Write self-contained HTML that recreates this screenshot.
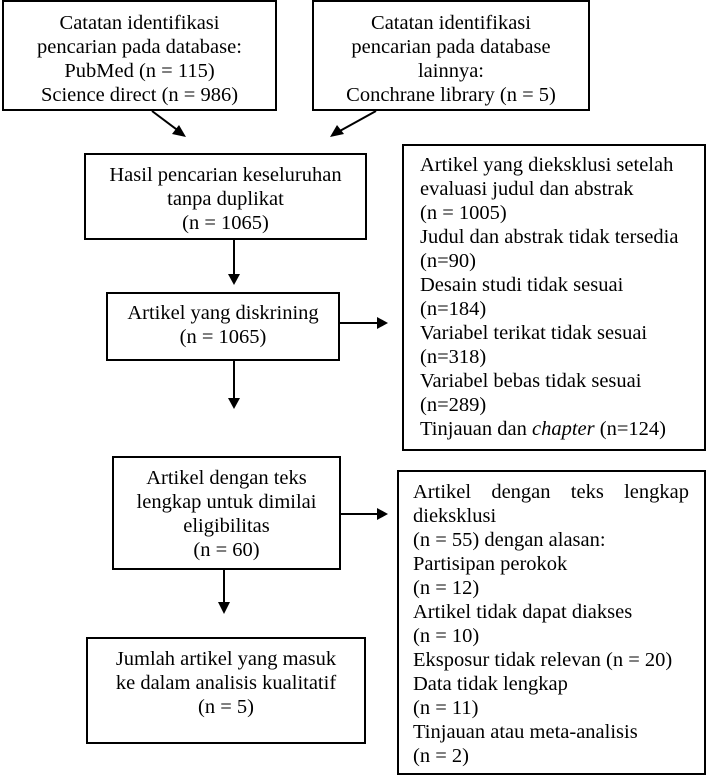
<!DOCTYPE html>
<html><head><meta charset="utf-8"><style>
body{margin:0;width:706px;height:775px;background:#fff;position:relative;overflow:hidden;font-family:"Liberation Serif",serif;font-size:20.5px;color:#000}
.b{position:absolute;border:2px solid #000;box-sizing:border-box}
.t{position:absolute;line-height:24px;white-space:nowrap}
.c{text-align:center}
</style></head><body>
<div class="b" style="left:2px;top:0;width:275px;height:111px"></div>
<div class="t c" style="left:2px;width:275px;top:11px">Catatan identifikasi<br>pencarian pada database:<br>PubMed (n = 115)<br>Science direct (n = 986)</div>
<div class="b" style="left:312px;top:0;width:278px;height:111px"></div>
<div class="t c" style="left:312px;width:278px;top:11px">Catatan identifikasi<br>pencarian pada database<br>lainnya:<br>Conchrane library (n = 5)</div>

<div class="b" style="left:84px;top:153px;width:283px;height:87px"></div>
<div class="t c" style="left:84px;width:283px;top:163px">Hasil pencarian keseluruhan<br>tanpa duplikat<br>(n = 1065)</div>

<div class="b" style="left:106px;top:292px;width:234px;height:69px"></div>
<div class="t c" style="left:106px;width:234px;top:301px">Artikel yang diskrining<br>(n = 1065)</div>

<div class="b" style="left:112px;top:456px;width:229px;height:114px"></div>
<div class="t c" style="left:112px;width:229px;top:466px">Artikel dengan teks<br>lengkap untuk dimilai<br>eligibilitas<br>(n = 60)</div>

<div class="b" style="left:86px;top:637px;width:280px;height:107px"></div>
<div class="t c" style="left:86px;width:280px;top:647px">Jumlah artikel yang masuk<br>ke dalam analisis kualitatif<br>(n = 5)</div>

<div class="b" style="left:402px;top:144px;width:304px;height:307px"></div>
<div class="t" style="left:420px;top:153px">Artikel yang dieksklusi setelah<br>evaluasi judul dan abstrak<br>(n = 1005)<br>Judul dan abstrak tidak tersedia<br>(n=90)<br>Desain studi tidak sesuai<br>(n=184)<br>Variabel terikat tidak sesuai<br>(n=318)<br>Variabel bebas tidak sesuai<br>(n=289)<br>Tinjauan dan <i>chapter</i> (n=124)</div>

<div class="b" style="left:397px;top:470px;width:309px;height:305px"></div>
<div class="t" style="left:413px;top:480px;width:276px;white-space:normal">
<div style="display:flex;justify-content:space-between"><span>Artikel</span><span>dengan</span><span>teks</span><span>lengkap</span></div>
dieksklusi<br>(n = 55) dengan alasan:<br>Partisipan perokok<br>(n = 12)<br>Artikel tidak dapat diakses<br>(n = 10)<br>Eksposur tidak relevan (n = 20)<br>Data tidak lengkap<br>(n = 11)<br>Tinjauan atau meta-analisis<br>(n = 2)</div>

<svg width="706" height="775" style="position:absolute;left:0;top:0" fill="#000" stroke="#000" stroke-width="2">
<line x1="152" y1="111" x2="180" y2="132"/><polygon points="186,137 172,134 179,125" stroke="none"/>
<line x1="376" y1="111" x2="338" y2="132"/><polygon points="330,137 337,125 344,134" stroke="none"/>
<line x1="234" y1="240" x2="234" y2="275"/><polygon points="228,274 240,274 234,285" stroke="none"/>
<line x1="340" y1="323" x2="378" y2="323"/><polygon points="377,317 377,329 388,323" stroke="none"/>
<line x1="234" y1="361" x2="234" y2="399"/><polygon points="228,398 240,398 234,409" stroke="none"/>
<line x1="341" y1="514" x2="378" y2="514"/><polygon points="377,508 377,520 388,514" stroke="none"/>
<line x1="224" y1="570" x2="224" y2="603"/><polygon points="218,602 230,602 224,614" stroke="none"/>
</svg>
</body></html>
